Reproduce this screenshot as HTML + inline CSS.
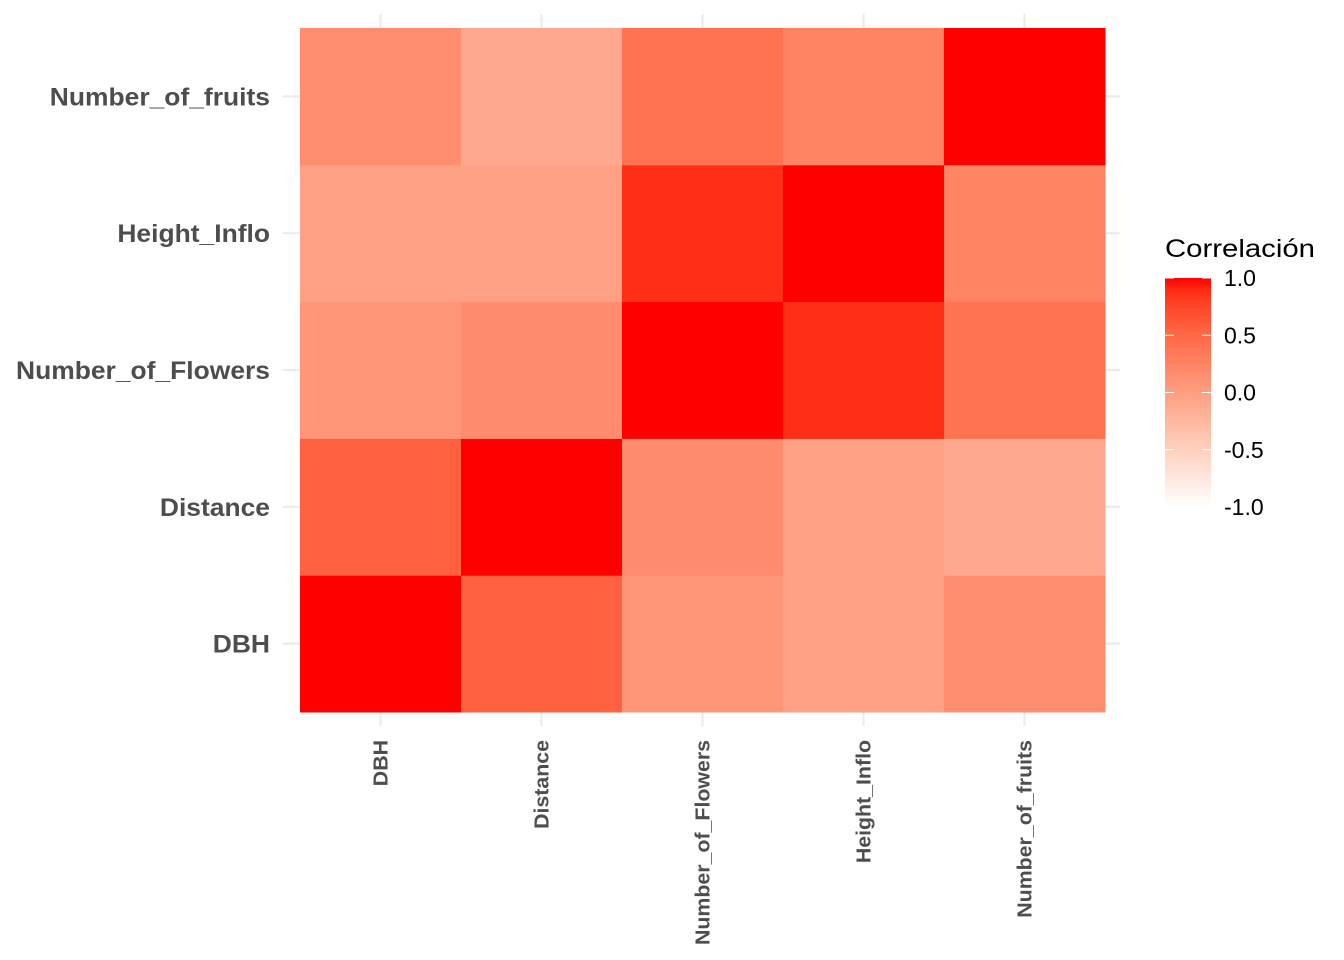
<!DOCTYPE html>
<html><head><meta charset="utf-8"><style>
body{margin:0;background:#fff;}
svg{display:block;font-family:"Liberation Sans",Arial,sans-serif;}
</style></head><body>
<svg id="c" width="1344" height="960"></svg>
<script>
const vars=["DBH","Distance","Number_of_Flowers","Height_Inflo","Number_of_fruits"];
const rowDBH=[1,0.55,0.08,-0.02,0.15];
const rowDistance=[0.55,1,0.17,-0.02,-0.1];
const rowFlowers=[0.08,0.17,1,0.88,0.4];
const rowHeight=[-0.02,-0.02,0.88,1,0.25];
const rowFruits=[0.15,-0.1,0.4,0.25,1];
const matrix=[rowDBH,rowDistance,rowFlowers,rowHeight,rowFruits];
const legendTicks=[1,0.5,0,-0.5,-1];
const legendLabels=["1.0","0.5","0.0","-0.5","-1.0"];

const NS="http://www.w3.org/2000/svg",svg=document.getElementById('c');
function mk(t,a,p){const e=document.createElementNS(NS,t);for(const k in a)e.setAttribute(k,a[k]);(p||svg).appendChild(e);return e;}
function fit(t,w){t.setAttribute('textLength',w);t.setAttribute('lengthAdjust','spacingAndGlyphs');}
const X0=300,X1=1105,Y0=28,Y1=712,n=vars.length,cw=(X1-X0)/n,ch=(Y1-Y0)/n;
const xc=i=>X0+cw*(i+0.5), yc=j=>Y1-ch*(j+0.5);
function toLin(c){c/=255;return c<=0.04045?c/12.92:Math.pow((c+0.055)/1.055,2.4);}
function fromLin(c){c=c<=0.0031308?12.92*c:1.055*Math.pow(c,1/2.4)-0.055;return Math.max(0,Math.min(255,Math.round(c*255)));}
function rgb2lab(r,g,b){r=toLin(r);g=toLin(g);b=toLin(b);
let x=(0.4124*r+0.3576*g+0.1805*b)/0.95047,y=0.2126*r+0.7152*g+0.0722*b,z=(0.0193*r+0.1192*g+0.9505*b)/1.08883;
const f=t=>t>0.008856?Math.cbrt(t):7.787*t+16/116;x=f(x);y=f(y);z=f(z);return[116*y-16,500*(x-y),200*(y-z)];}
function lab2rgb(L,a,b){let y=(L+16)/116,x=a/500+y,z=y-b/200;const fi=t=>t*t*t>0.008856?t*t*t:(t-16/116)/7.787;
x=fi(x)*0.95047;y=fi(y);z=fi(z)*1.08883;
const r=3.2406*x-1.5372*y-0.4986*z,g=-0.9689*x+1.8758*y+0.0415*z,bb=0.0557*x-0.2040*y+1.0570*z;
return `rgb(${fromLin(r)},${fromLin(g)},${fromLin(bb)})`;}
const LW=rgb2lab(255,255,255),LR=rgb2lab(255,0,0);
function color(v){const t=(v+1)/2;return lab2rgb(LW[0]+(LR[0]-LW[0])*t,LW[1]+(LR[1]-LW[1])*t,LW[2]+(LR[2]-LW[2])*t);}
for(let i=0;i<n;i++){
 let l=mk('line',{x1:xc(i),x2:xc(i),y1:14,y2:726,stroke:'#EBEBEB','stroke-width':2.2});
 
 l=mk('line',{x1:283,x2:1120,y1:yc(i),y2:yc(i),stroke:'#EBEBEB','stroke-width':2.2});
 
}
for(let r=0;r<n;r++)for(let c=0;c<n;c++){
 const e=mk('rect',{x:X0+cw*c,y:Y1-ch*(r+1),width:cw+0.5,height:ch+0.5,fill:color(matrix[r][c])});
 
}
const yl=[],xl=[];
for(let i=0;i<n;i++){
 let t=mk('text',{x:270,y:yc(i)+9,'text-anchor':'end','font-size':25,'font-weight':'bold',fill:'#4D4D4D'});t.textContent=vars[i];
 yl.push(t);
 t=mk('text',{x:0,y:0,'text-anchor':'end','font-size':20,'font-weight':'bold',fill:'#4D4D4D',transform:`translate(${xc(i)+7},740) rotate(-90)`});t.textContent=vars[i];
 xl.push(t);
}
const ky=254/yl[2].getComputedTextLength(), kx=205/xl[2].getComputedTextLength();
yl.forEach(t=>fit(t,t.getComputedTextLength()*ky));
xl.forEach(t=>fit(t,t.getComputedTextLength()*kx));
let lt=mk('text',{x:1165,y:257,'font-size':25,fill:'#000'});lt.textContent='Correlación';
fit(lt,150);
const defs=mk('defs',{}),gr=mk('linearGradient',{id:'g',x1:0,y1:1,x2:0,y2:0},defs);
for(let k=0;k<=20;k++){const v=-1+k/10;mk('stop',{offset:k/20,'stop-color':color(v)},gr);}
const LY0=278,LY1=507,ly=v=>LY1-(v+1)/2*(LY1-LY0);
let lb=mk('rect',{x:1165,y:LY0,width:46,height:LY1-LY0,fill:'url(#g)'});

legendTicks.forEach((v,i)=>{
 mk('line',{x1:1165,x2:1174,y1:ly(v),y2:ly(v),stroke:'#fff','stroke-width':1});
 mk('line',{x1:1202,x2:1211,y1:ly(v),y2:ly(v),stroke:'#fff','stroke-width':1});
 const t=mk('text',{x:1224,y:ly(v)+8,'font-size':23,fill:'#000'});t.textContent=legendLabels[i];
 
});
</script>
</body></html>
